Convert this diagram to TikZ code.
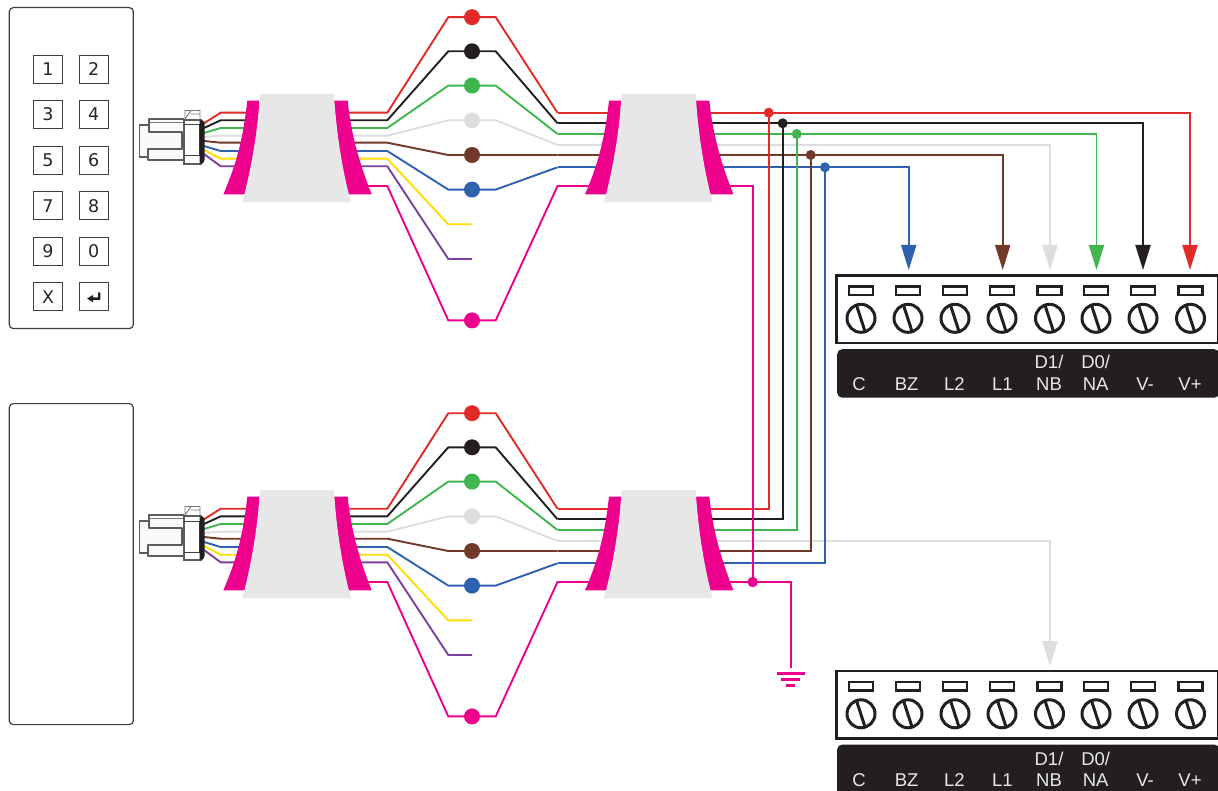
\documentclass[tikz,border=0pt]{standalone}
\usepackage{fontspec}
\setmainfont{Liberation Sans}
\newfontfamily\keyfont{DejaVu Sans}
\usetikzlibrary{arrows.meta}
\definecolor{wred}{HTML}{E12B28}
\definecolor{wblack}{HTML}{231F20}
\definecolor{wgreen}{HTML}{40B550}
\definecolor{wgray}{HTML}{DCDDDE}
\definecolor{wbrown}{HTML}{71392A}
\definecolor{wblue}{HTML}{2E62AE}
\definecolor{wyellow}{HTML}{FFDD00}
\definecolor{wpurple}{HTML}{7D3FA0}
\definecolor{wpink}{HTML}{EC008C}
\definecolor{cuffgray}{HTML}{E7E7E8}
\definecolor{edge}{HTML}{3F3F3F}
\tikzset{
  wire/.style={line width=1.9pt,line join=miter},
  bigdot/.style={circle,inner sep=0pt,minimum size=16pt},
  jdot/.style={circle,inner sep=0pt,minimum size=10pt},
  panel/.style={draw=edge,line width=1.2pt,rounded corners=4pt,fill=white},
  keybox/.style={draw=edge,line width=1.1pt,minimum width=29pt,minimum height=28pt,inner sep=0pt,font=\keyfont\fontsize{17.5}{17.5}\selectfont,text=black!85},
  termtip/.style={-{Triangle[length=25pt,width=15pt]}},
  conn/.style={draw=edge!85,line width=1.2pt,fill=black!2},
  strip/.style={fill=wblack,rounded corners=5pt},
  termlabel/.style={anchor=base,text=cuffgray,font=\fontsize{18.5}{18.5}\selectfont,inner sep=0pt},
}
\newcommand{\cuffpair}{%
  \fill[wpink] (247.3,100.7) .. controls (243,140) and (236,165) .. (223.3,194.3) -- (246,194.3) .. controls (253,165) and (258,130) .. (259.3,100.7) -- cycle;
  \fill[wpink] (334,100.7) -- (347.7,100.7) .. controls (351,135) and (360,165) .. (371.7,194.3) -- (348.5,194.3) .. controls (341,165) and (336,130) .. (334,100.7) -- cycle;
  \fill[cuffgray] (260,94) -- (334,94) .. controls (336,130) and (342,170) .. (351,202.3) -- (242.3,202.3) .. controls (251,170) and (258,130) .. (260,94) -- cycle;
}
\newcommand{\harnesswires}{%
  \foreach \n/\c/\ys/\ya/\ym/\yb in {gray/wgray/137/135.7/120.3/145,red/wred/123.3/112.7/17.2/112.7,black/wblack/128/120.3/51.3/123.3,green/wgreen/133/128/85.6/134,brown/wbrown/141/142.7/155/155,blue/wblue/146/151/189.6/167.3}{
    \coordinate (\n-s) at (204,\ys);
    \coordinate (\n-a) at (220.7,\ya);
    \coordinate (\n-b) at (387.3,\ya);
    \coordinate (\n-c) at (448.3,\ym);
    \coordinate (\n-m) at (472,\ym);
    \coordinate (\n-e) at (495.7,\ym);
    \coordinate (\n-f) at (557.5,\yb);
    \draw[wire,\c] (\n-s) -- (\n-a) -- (\n-b) -- (\n-c) -- (\n-e) -- (\n-f);
    \node[bigdot,fill=\c] (\n-d) at (\n-m) {};
  }
  \foreach \n/\c/\ys/\ya/\ym in {yellow/wyellow/150/158.7/224.3,purple/wpurple/154/166.3/259}{
    \coordinate (\n-s) at (204,\ys);
    \coordinate (\n-a) at (220.7,\ya);
    \coordinate (\n-b) at (387.3,\ya);
    \coordinate (\n-c) at (448.3,\ym);
    \coordinate (\n-m) at (472,\ym);
    \draw[wire,\c] (\n-s) -- (\n-a) -- (\n-b) -- (\n-c) -- (\n-m);
  }
  \coordinate (pink-a) at (360,186);
  \coordinate (pink-b) at (387.3,186);
  \coordinate (pink-c) at (448.3,320.4);
  \coordinate (pink-m) at (472,320.4);
  \coordinate (pink-e) at (495.7,320.4);
  \coordinate (pink-f) at (557.5,186);
  \coordinate (pink-g) at (725,186);
  \draw[wire,wpink] (pink-a) -- (pink-b) -- (pink-c) -- (pink-e) -- (pink-f) -- (pink-g);
  \node[bigdot,fill=wpink] (pink-d) at (pink-m) {};
}
\newcommand{\harnessbodies}{%
  \cuffpair
  \begin{scope}[xshift=361.7pt]\cuffpair\end{scope}
  \draw[conn] (149,125) -- (139.5,125) -- (139.5,157) -- (149,157);
  \fill[black!2] (149,119) rectangle (184,160);
  \draw[conn,fill=none,line join=round] (184,119) -- (149,119) -- (149,132) -- (182,132) -- (182,149) -- (148,149) -- (148,160) -- (184,160);
  \draw[edge!70,line width=.9pt] (149,122) -- (184,122);
  \draw[edge!70,line width=.9pt,fill=white] (185,120) -- (185,110.5) -- (200,110.5) -- (200,120) (185,119) -- (191,110.5) (191,114) -- (200,114);
  \draw[conn,fill=white] (184,120) rectangle (201,164);
  \draw[edge,line width=1pt] (184,125) -- (199,125) -- (199,156) -- (184,156);
  \fill[wblack] (199.5,120.5) -- (203,120.5) -- (204.5,123) -- (204.5,160) -- (203,163.5) -- (199.5,163.5) -- cycle;
}
\newcommand{\terminal}{%
  \draw[wblack,line width=2.8pt,fill=white] (836.5,275.5) rectangle (1218.5,343);
  \foreach \x in {861,908,955,1002,1049.5,1096,1143,1190.5}{
    \draw[wblack,line width=2.5pt,fill=white] (\x-12,286.3) rectangle (\x+12,295);
    \draw[wblack,line width=3pt,fill=white] (\x,318.3) circle (14);
    \draw[wblack,line width=3pt] (\x-4.5,305.2) -- (\x+4,331.4);
  }
}
\begin{document}
\begin{tikzpicture}[x=1pt,y=-1pt]
\path[use as bounding box,clip] (0,0) rectangle (1218,791);
\fill[white] (0,0) rectangle (1218,791);

% panels
\node[panel,minimum width=124pt,minimum height=321pt,anchor=north west,inner sep=0pt] (keypad) at (8.7,7) {};
\node[panel,minimum width=124pt,minimum height=321pt,anchor=north west,inner sep=0pt] (blank) at (8.7,403) {};

% keys
\foreach \t/\px/\py in {1/48/69.3,2/93.8/69.3,3/48/114.3,4/93.8/114.3,5/48/160.2,6/93.8/160.2,7/48/205.7,8/93.8/205.7,9/48/251.3,0/93.8/251.3,X/48/296.7}{
  \node[keybox] (key\t) at (\px,\py) {\t};
}
\node[keybox] (keyret) at (93.8,296.7) {};
\fill[wblack] (87,298.6) -- (93,295) -- (93,297.4) -- (98.2,297.4) -- (98.2,292.5) -- (100.4,292.5) -- (100.4,299.8) -- (93,299.8) -- (93,302.2) -- cycle;

% wires of both harnesses
\begin{scope}[name prefix=l-,shift={(0,396)}]\harnesswires\end{scope}
\begin{scope}[name prefix=u-]\harnesswires\end{scope}

% terminal anchors
\coordinate (tip-blue) at (908.7,270);
\coordinate (tip-brown) at (1002.7,270);
\coordinate (tip-gray) at (1050,270);
\coordinate (tip-green) at (1096.5,270);
\coordinate (tip-black) at (1143,270);
\coordinate (tip-red) at (1190,270);
\coordinate (tip-lgray) at (1050,666);

% lower gray runs on to the lower block, beneath the risers
\draw[wire,wgray,termtip] (l-gray-f) -- (l-gray-f -| tip-lgray) -- (tip-lgray);

% upper runs to the upper block
\foreach \n/\c in {gray/wgray,blue/wblue,brown/wbrown,green/wgreen,black/wblack,red/wred}{
  \draw[wire,\c,termtip] (u-\n-f) -- (u-\n-f -| tip-\n) -- (tip-\n);
}

% risers
\foreach \n/\c/\x in {blue/wblue/825,brown/wbrown/810.7,green/wgreen/796.7,black/wblack/782.7,red/wred/768.7}{
  \coordinate (rise-\n) at (\x,0);
  \draw[wire,\c] (l-\n-f) -- (l-\n-f -| rise-\n) -- (u-\n-f -| rise-\n);
  \node[jdot,fill=\c] (j-\n) at (u-\n-f -| rise-\n) {};
}

% shield
\coordinate (rise-pink) at (752.7,0);
\coordinate (gnd) at (790.7,668);
\draw[wire,wpink] (u-pink-g) -- (u-pink-g -| rise-pink) -- (l-pink-g -| rise-pink);
\draw[wire,wpink] (l-pink-g) -- (l-pink-g -| gnd) -- (gnd);
\node[jdot,fill=wpink,minimum size=10.5pt] (j-pink) at (l-pink-g -| rise-pink) {};
\draw[wpink,line width=2.6pt] (776.7,673.2) -- (804.7,673.2) (781.2,679.4) -- (800.2,679.4) (786,685.6) -- (795.4,685.6);

% cuffs and plugs over the wires
\begin{scope}[shift={(0,396)}]\harnessbodies\end{scope}
\harnessbodies

% terminal blocks
\terminal
\begin{scope}[yshift=-395.5pt]\terminal\end{scope}

% label strips
\node[strip,anchor=north west,minimum width=382pt,minimum height=48.5pt,inner sep=0pt] (stripu) at (837,349) {};
\node[strip,anchor=north west,minimum width=382pt,minimum height=60pt,inner sep=0pt] (stripl) at (837,744.3) {};
\foreach \t/\x/\n in {C/859/c,BZ/906.7/bz,L2/954.3/ltwo,L1/1002.3/lone,NB/1049/nb,NA/1095.7/na,V-/1145/vm,V+/1190/vp}{
  \node[termlabel] (lu-\n) at (\x,390.7) {\t};
  \node[termlabel] (ll-\n) at (\x,786.7) {\t};
}
\foreach \t/\x/\n in {D1\slash/1049/d,D0\slash/1095.7/z}{
  \node[termlabel] (lu-\n) at (\x,368.3) {\t};
  \node[termlabel] (ll-\n) at (\x,765) {\t};
}
\end{tikzpicture}
\end{document}
